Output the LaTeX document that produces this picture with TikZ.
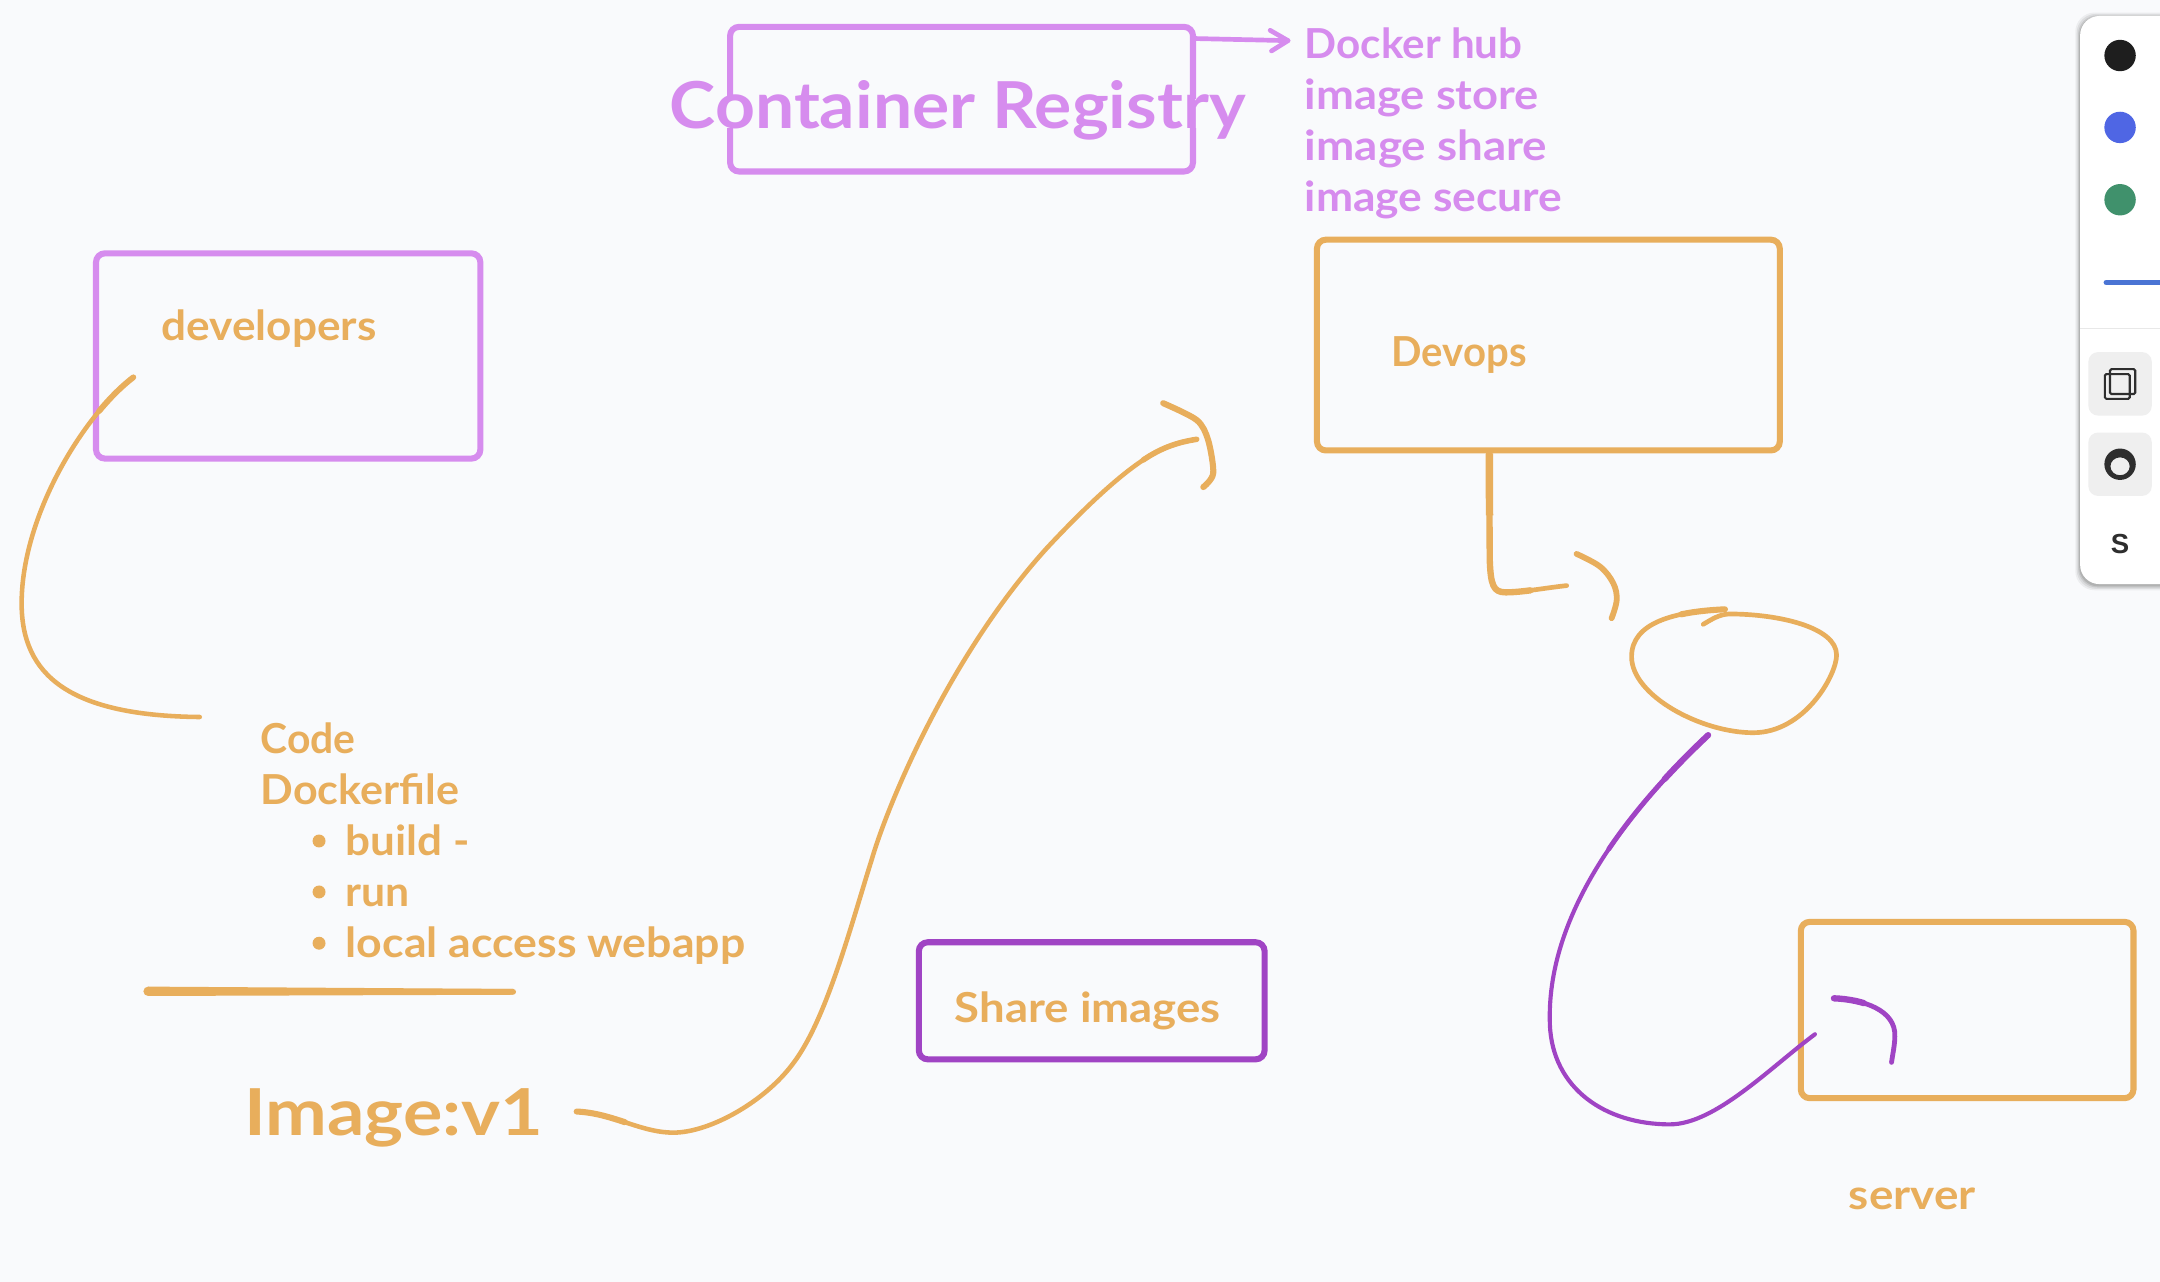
\documentclass[tikz,border=0pt]{standalone}
\usepackage{fontspec}
\usepackage{graphicx}
\setmainfont{Lato}
\newfontfamily\uifont{Liberation Sans}
\definecolor{bgc}{HTML}{F9FAFC}
\definecolor{org}{HTML}{E8AE5C}
\definecolor{lila}{HTML}{D68CEE}
\definecolor{plum}{HTML}{A044C4}
\definecolor{pblack}{HTML}{1E1E1E}
\definecolor{pblue}{HTML}{4F66E4}
\definecolor{pgreen}{HTML}{40916C}
\definecolor{pline}{HTML}{4A74D4}
\definecolor{btn}{HTML}{EFEFEF}
\definecolor{ink}{HTML}{2E2E2E}
\newcommand{\fitw}[2]{\resizebox{#1pt}{\height}{#2}}
\tikzset{
  sketchbox/.style={draw=#1,line width=4.4pt,rounded corners=6.5pt,fill=none,inner sep=0pt},
  txt/.style={anchor=base west,inner sep=0pt,text=#1,font=\fontsize{30}{34}\selectfont\bfseries},
  big/.style={anchor=base west,inner sep=0pt,text=#1,font=\fontsize{47}{52}\selectfont\bfseries},
  stroke/.style={draw=#1,line width=3.3pt,line cap=round,line join=round},
  firstpart/.style={dash pattern=on #1pt off 6000pt},
  bullet/.style={circle,fill=org,minimum size=9.4pt,inner sep=0pt},
  swatch/.style={circle,fill=#1,minimum size=22.8pt,inner sep=0pt},
  toolbtn/.style={fill=btn,rounded corners=7pt},
}
\begin{document}
\begin{tikzpicture}[x=1pt,y=-1pt]
\useasboundingbox (0,0) rectangle (1568,930.6);
\fill[bgc] (0,0) rectangle (1568,930.6);

% boxes
\node[sketchbox=lila,minimum width=336pt,minimum height=105pt] (registry) at (698,72) {};
\node[sketchbox=lila,minimum width=279pt,minimum height=149pt] (developers) at (209.2,258.4) {};
\node[sketchbox=org,minimum width=336pt,minimum height=153pt] (devops) at (1124,250.5) {};
\node[sketchbox=plum,minimum width=251pt,minimum height=85pt] (share) at (792.5,726.5) {};
\node[sketchbox=org,minimum width=241.5pt,minimum height=128pt] (server) at (1428,733.2) {};

% texts
\node[big=lila,fill=bgc,text height=21pt,text depth=0pt] (regtext) at (486,93) {\fitw{418}{Container Registry}};
\node[txt=lila] (hub) at (947,42.5) {\fitw{158}{Docker hub}};
\node[txt=lila] (store) at (947,79.5) {\fitw{170}{image store}};
\node[txt=lila] (imshare) at (947,116.5) {\fitw{176}{image share}};
\node[txt=lila] (secure) at (947,153.5) {\fitw{187}{image secure}};
\node[txt=org] (devtext) at (117,247.2) {\fitw{156}{developers}};
\node[txt=org] (opstext) at (1010,266) {\fitw{98}{Devops}};
\node[txt=org] (sharetext) at (693,742.5) {\fitw{193}{Share images}};
\node[txt=org] (servertext) at (1342,878) {\fitw{92}{server}};
\node[txt=org] (code) at (189,547) {\fitw{69}{Code}};
\node[txt=org] (dockerfile) at (189,584) {\fitw{144}{Dockerfile}};
\node[txt=org] (build) at (250.8,621) {\fitw{90}{build -}};
\node[txt=org] (run) at (250.8,658) {\fitw{46.5}{run}};
\node[txt=org] (local) at (250.8,695.3) {\fitw{290}{local access webapp}};
\node[bullet] (b1) at (231.6,610.5) {};
\node[bullet] (b2) at (231.6,647.5) {};
\node[bullet] (b3) at (231.6,684.7) {};
\node[big=org] (image) at (177,824.5) {\fitw{217}{Image:v1}};

% registry arrow
\coordinate (regtip) at (935,29.5);
\draw[stroke=lila,line width=3.4pt] (registry.east |- 0,28) -- (regtip);
\draw[stroke=lila,line width=3.4pt] (922,22) -- (regtip) -- (923,37);

% developers stroke
\coordinate (devstart) at (96.8,273.9);
\coordinate (devend) at (145,520.5);
\def\devpath{(devstart) .. controls (60,302) and (15.7,375) .. (15.7,438) .. controls (15.7,490) and (50,519.5) .. (devend)}
\draw[stroke=org] \devpath;
\draw[stroke=org,line width=4.2pt,firstpart=35] \devpath;

% rule under list
\coordinate (rulea) at (107.5,719.6);
\coordinate (ruleb) at (372.5,720);
\fill[org] (107.5,716.2) -- (372.5,717.9) -- (372.5,722.1) -- (107.5,723) -- cycle;
\fill[org] (rulea) circle (3.4pt);
\draw[stroke=org,line width=4.2pt] (rulea) -- (ruleb);

% image arrow
\coordinate (imgstart) at (418.6,806.9);
\coordinate (imgtip) at (868.7,318.9);
\def\imgpath{(imgstart) .. controls (445,808) and (465,822.2) .. (488.8,822.2) .. controls (515,822.2) and (555,800) .. (575.8,771.9) .. controls (600,740) and (617.7,671.8) .. (632.7,624.3) .. controls (645,582) and (690,475) .. (759.8,398) .. controls (785,371) and (810,347) .. (829.9,333.9) .. controls (843,325) and (855,321) .. (imgtip)}
\draw[stroke=org] \imgpath;
\draw[stroke=org,line width=4.4pt,firstpart=36] \imgpath;
\draw[stroke=org,line width=4pt] (829.9,333.9) .. controls (843,325) and (855,321) .. (imgtip);
\draw[stroke=org,line width=4.4pt] plot[smooth,tension=0.5] coordinates {(844.4,292.7) (868.7,304.9) (877,319.4) (880.7,343.6) (873.5,353.6)};

% devops arrow
\coordinate (opsturn) at (1137.3,425.1);
\def\opspath{(devops.south -| 1081.1,0) -- (1081.4,405) .. controls (1082,425) and (1084,430) .. (1093,430) .. controls (1105,430) and (1120,427) .. (opsturn)}
\draw[stroke=org,line width=3.4pt] \opspath;
\draw[stroke=org,line width=4.6pt,firstpart=125] \opspath;
\draw[stroke=org,line width=5.4pt,line cap=butt,firstpart=45] \opspath;
\draw[stroke=org,line width=4.2pt] plot[smooth,tension=0.6] coordinates {(1144.5,402.1) (1161.5,411.3) (1171.1,423.4) (1173.6,435.5) (1169.9,448.8)};

% loop
\coordinate (looptip) at (1252.2,442.3);
\def\looppath{(looptip) .. controls (1215,444) and (1184.4,452) .. (1184.4,476.7) .. controls (1184.4,505) and (1235,531.9) .. (1272.7,531.9) .. controls (1310,531.9) and (1333.2,490) .. (1333.2,475.5) .. controls (1333.2,455) and (1290,445.7) .. (1255.8,445.7) .. controls (1248,445.7) and (1242,450) .. (1236.4,453.2)}
\draw[stroke=org,line width=3.4pt] \looppath;
\draw[stroke=org,line width=4.4pt,firstpart=32] \looppath;

% purple stroke
\coordinate (purstart) at (1240,533.6);
\coordinate (purend) at (1317.5,750.8);
\def\purpath{(purstart) .. controls (1180,590) and (1122,665) .. (1125.1,744) .. controls (1127,790) and (1165,816.2) .. (1212.2,816.2) .. controls (1245,816.2) and (1285,775) .. (purend)}
\draw[stroke=plum,line width=3pt] \purpath;
\draw[stroke=plum,line width=3.6pt,firstpart=110] \purpath;
\draw[stroke=plum,line width=4.4pt,firstpart=45] \purpath;
\def\purhead{(1331.3,724.7) .. controls (1352,725.5) and (1376.5,733) .. (1375.5,752.5) .. controls (1375.5,758) and (1374,765) .. (1373.1,771.2)}
\draw[stroke=plum,line width=3.5pt] \purhead;
\draw[stroke=plum,line width=4.6pt,firstpart=22] \purhead;

% toolbar
\begin{scope}
\clip (0,0) rectangle (1568,930.6);
\foreach \g/\o in {3.5/0.05,2.5/0.07,1.5/0.09,0.7/0.11}
  \fill[black,opacity=\o,rounded corners=14pt] (1510-\g,11.6-\g+1) rectangle (1600,424+\g+1);
\fill[white!99!bgc,rounded corners=14pt] (1510,11.6) rectangle (1600,424);
\draw[color=black!9,line width=1pt] (1510,238.5) -- (1568,238.5);
\draw[pline,line width=4pt,line cap=round] (1529,205) -- (1600,205);
\end{scope}
\node[swatch=pblack] (s1) at (1539,40.3) {};
\node[swatch=pblue] (s2) at (1539,92.5) {};
\node[swatch=pgreen] (s3) at (1539,145) {};
\fill[toolbtn] (1516,255.6) rectangle (1562,301.7);
\fill[toolbtn] (1516,314) rectangle (1562,360);
\draw[ink,line width=1.5pt,rounded corners=1pt] (1531.7,268) rectangle (1550,286);
\draw[ink,line width=1.5pt,rounded corners=1pt] (1528,271.6) rectangle (1546,289.5);
\fill[ink,even odd rule] (1539,337) ellipse [x radius=11.4pt,y radius=11.4pt] (1539,338.5) ellipse [x radius=7pt,y radius=6.5pt];
\node[inner sep=0pt,text=ink,font=\uifont\bfseries\fontsize{20}{22}\selectfont] (stext) at (1539,395) {S};
\end{tikzpicture}
\end{document}
